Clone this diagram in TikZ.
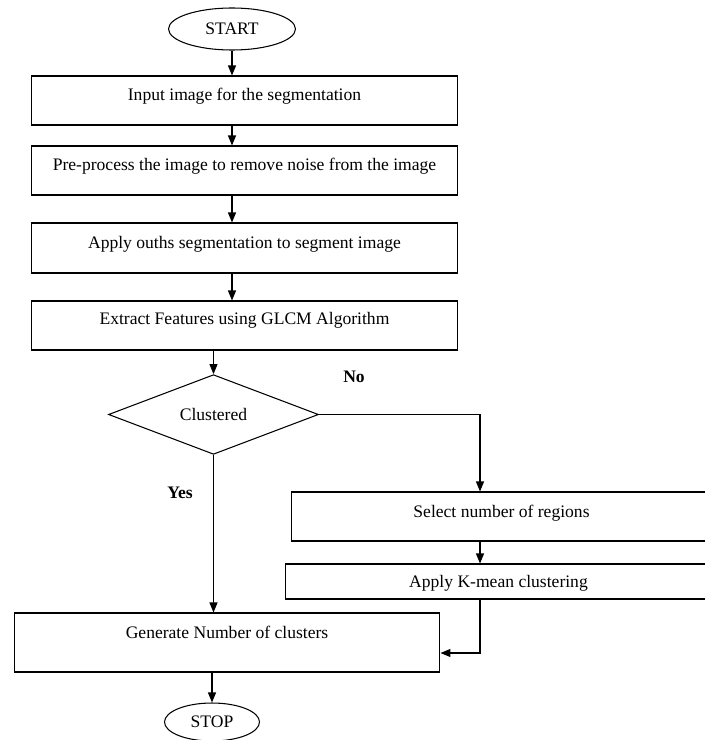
\documentclass[tikz,border=0pt]{standalone}
\usepackage{fontspec}
\setmainfont{Liberation Serif}
\usepackage{tikz}
\usetikzlibrary{arrows.meta,positioning,shapes.geometric}
\tikzset{
  procbox/.style={draw, rectangle, line width=0.6pt, align=center, inner sep=0pt, minimum width=8.54cm, minimum height=0.98cm, text height=0.7em, text depth=0.24cm},
  termnode/.style={draw, ellipse, line width=0.6pt, inner sep=0pt},
  decnode/.style={draw, diamond, line width=0.6pt, inner sep=0pt, minimum width=4.2cm, minimum height=1.1cm},
  flowedge/.style={-{Triangle[length=2mm, width=1.6mm]}, line width=0.6pt},
  branchlabel/.style={font=\fontsize{10}{12}\selectfont\bfseries, inner sep=0pt}
}

\begin{document}
\begin{tikzpicture}[x=0.02cm, y=-0.02cm, font=\fontsize{10}{12}\selectfont]
  \useasboundingbox (0,0) rectangle (705,740);
  \node[termnode, minimum width=2.54cm, minimum height=0.84cm] (start) at (232,29) {START};
  \node[procbox] (in1) at (244.5,100.5) {Input image for the segmentation};
  \node[procbox] (in2) at (244.5,170.5) {Pre-process the image to remove noise from the image};
  \node[procbox, minimum height=1cm] (in3) at (244.5,248) {Apply ouths segmentation to segment image};
  \node[procbox, text depth=0.27cm] (in4) at (244.5,325.5) {Extract Features using GLCM Algorithm};
  \node[decnode] (dec) at (213.5,414.5) {Clustered};
  \node[procbox, minimum width=8.42cm, text depth=0.2cm] (sel) at (501.5,516.5) {Select number of regions};
  \node[procbox, minimum height=0.7cm, text depth=0.02cm] (km) at (498.5,581.5) {Apply K-mean clustering};
  \node[procbox, minimum width=8.52cm, minimum height=1.18cm, text depth=0.39cm] (gen) at (227,642.5) {Generate Number of clusters};
  \node[termnode, minimum width=1.9cm, minimum height=0.76cm] (stop) at (212,722) {STOP};
  \node[branchlabel] (nolbl) at (354,377) {No};
  \node[branchlabel] (yeslbl) at (180,493) {Yes};
  \coordinate (nocol) at (480,0);
  \draw[flowedge] (start.south) -- (start.south |- in1.north);
  \draw[flowedge] (in1.south -| start) -- (in2.north -| start);
  \draw[flowedge] (in2.south -| start) -- (in3.north -| start);
  \draw[flowedge] (in3.south -| start) -- (in4.north -| start);
  \draw[flowedge] (in4.south -| dec) -- (dec.north);
  \draw[flowedge] (dec.east) -| (nocol |- sel.north);
  \draw[flowedge] (nocol |- sel.south) -- (nocol |- km.north);
  \draw[flowedge] (nocol |- km.south) |- ([yshift=-0.21cm]gen.east);
  \draw[flowedge] (dec.south) -- (dec.south |- gen.north);
  \draw[flowedge] (gen.south -| stop) -- (stop.north);
\end{tikzpicture}
\end{document}
